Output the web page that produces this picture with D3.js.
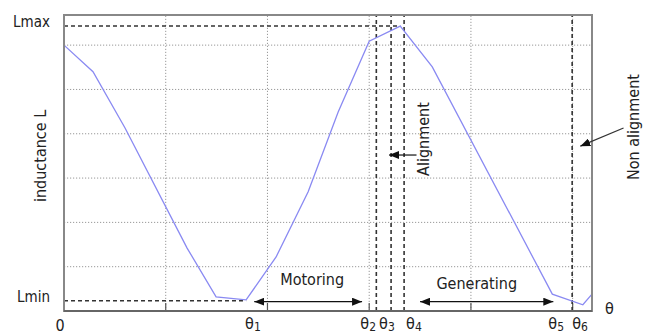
<!DOCTYPE html>
<html>
<head>
<meta charset="utf-8">
<script src="https://cdn.jsdelivr.net/npm/d3@7"></script>
<style>
  body { margin: 0; background: #fff; }
  text { font-family: "DejaVu Sans Condensed", "DejaVu Sans", sans-serif; fill: #222; }
</style>
</head>
<body>
<div id="chart"></div>
<script>
// rotor angle (grid units) and inductance (grid units)
const theta = [0, 0.285, 0.60, 1.21, 1.495, 1.79, 2.085, 2.40, 2.695, 3.00, 3.305, 3.62, 4.80, 5.10, 5.19];
const inductance = [6.00, 5.40, 4.13, 1.42, 0.32, 0.25, 1.22, 2.69, 4.49, 6.09, 6.43, 5.51, 0.38, 0.14, 0.38];

const lMax = 6.43, lMin = 0.23;
const xGrid = [1, 2, 3, 4, 5];
const yGrid = [1, 2, 3, 4, 5, 6];

// theta markers
const markNames = ["1", "2", "3", "4", "5", "6"];
const markVals = [1.79, 3.07, 3.215, 3.343, 4.80, 4.995];
const markLine = [false, true, true, true, false, true];

// operating regions
const regionNames = ["Motoring", "Generating"];
const regionFrom = [1.87, 3.50];
const regionTo = [2.93, 4.81];

let width = 653, height = 336;
let margin = {top: 15, right: 61, bottom: 25, left: 64};

let svg = d3.select("#chart").append("svg")
    .attr("width", width)
    .attr("height", height);

svg.append("defs").append("marker")
    .attr("id", "arr")
    .attr("viewBox", "0 0 10 8")
    .attr("refX", 10).attr("refY", 4)
    .attr("markerWidth", 10).attr("markerHeight", 8)
    .attr("markerUnits", "userSpaceOnUse")
    .attr("orient", "auto-start-reverse")
    .append("path").attr("d", "M0,0L10,4L0,8Z").attr("fill", "#111");

let x = d3.scaleLinear().domain([0, 5.19]).range([margin.left, width - margin.right]);
let y = d3.scaleLinear().domain([0, 6.68]).range([height - margin.bottom, margin.top]);

// grid
svg.append("g").selectAll("line").data(yGrid).enter().append("line")
    .attr("x1", x(0)).attr("x2", x(5.19))
    .attr("y1", d => y(d)).attr("y2", d => y(d))
    .attr("stroke", "#999").attr("stroke-dasharray", "1.2,1.8");
svg.append("g").selectAll("line").data(xGrid).enter().append("line")
    .attr("x1", d => x(d)).attr("x2", d => x(d))
    .attr("y1", y(0)).attr("y2", y(6.68))
    .attr("stroke", "#999").attr("stroke-dasharray", "1.2,1.8");

// bottom ticks
svg.append("g").selectAll("line").data(xGrid).enter().append("line")
    .attr("x1", d => x(d)).attr("x2", d => x(d))
    .attr("y1", y(0)).attr("y2", y(0) - 8)
    .attr("stroke", "#555").attr("stroke-width", 1.2);

// Lmax / Lmin dashed guides
svg.append("line")
    .attr("x1", x(0)).attr("x2", x(3.305))
    .attr("y1", y(lMax)).attr("y2", y(lMax))
    .attr("stroke", "#333").attr("stroke-width", 1.5).attr("stroke-dasharray", "4,3");
svg.append("line")
    .attr("x1", x(0)).attr("x2", x(1.79))
    .attr("y1", y(lMin)).attr("y2", y(lMin))
    .attr("stroke", "#333").attr("stroke-width", 1.5).attr("stroke-dasharray", "4,3");

// vertical theta lines
svg.append("g").selectAll("line").data(markVals.filter((d, i) => markLine[i])).enter().append("line")
    .attr("x1", d => x(d)).attr("x2", d => x(d))
    .attr("y1", y(0)).attr("y2", y(6.68))
    .attr("stroke", "#333").attr("stroke-width", 1.6).attr("stroke-dasharray", "4,3");

// curve
let line = d3.line().x((d, i) => x(theta[i])).y(d => y(d));
svg.append("path")
    .attr("d", line(inductance))
    .attr("fill", "none")
    .attr("stroke", "#8a8af2")
    .attr("stroke-width", 1.3);

// box
svg.append("rect")
    .attr("x", x(0)).attr("y", y(6.68))
    .attr("width", x(5.19) - x(0)).attr("height", y(0) - y(6.68))
    .attr("fill", "none").attr("stroke", "#888").attr("stroke-width", 2);
svg.append("line")
    .attr("x1", x(0)).attr("x2", x(5.19))
    .attr("y1", y(0)).attr("y2", y(0))
    .attr("stroke", "#666").attr("stroke-width", 2.2);

// region arrows + labels
regionNames.forEach((name, i) => {
    let ay = y(0.21);
    svg.append("line")
        .attr("x1", x(regionFrom[i])).attr("x2", x(regionTo[i]))
        .attr("y1", ay).attr("y2", ay)
        .attr("stroke", "#111").attr("stroke-width", 1.3)
        .attr("marker-start", "url(#arr)").attr("marker-end", "url(#arr)");
    svg.append("text")
        .attr("x", (x(regionFrom[i]) + x(regionTo[i])) / 2 + (i ? -10 : 4))
        .attr("y", ay - (i ? 13 : 17))
        .attr("text-anchor", "middle")
        .attr("font-size", 16)
        .text(name);
});

// alignment annotations
svg.append("line")
    .attr("x1", x(3.465)).attr("x2", x(3.195))
    .attr("y1", y(3.52)).attr("y2", y(3.52))
    .attr("stroke", "#111").attr("stroke-width", 1.2)
    .attr("marker-end", "url(#arr)");
svg.append("text")
    .attr("transform", `translate(${x(3.6) - 1},${y(3.88)}) rotate(-90)`)
    .attr("text-anchor", "middle").attr("font-size", 16)
    .text("Alignment");

svg.append("line")
    .attr("x1", x(5.50)).attr("x2", x(5.075))
    .attr("y1", y(4.13)).attr("y2", y(3.72))
    .attr("stroke", "#333").attr("stroke-width", 1.2)
    .attr("marker-end", "url(#arr)");
svg.append("text")
    .attr("transform", `translate(${x(5.655)},${y(4.15)}) rotate(-90)`)
    .attr("text-anchor", "middle").attr("font-size", 16)
    .text("Non alignment");

// axis labels
svg.append("text")
    .attr("transform", `translate(46,${y(3.5)}) rotate(-90)`)
    .attr("text-anchor", "middle").attr("font-size", 16)
    .text("inductance L");
svg.append("text")
    .attr("x", x(0) - 14).attr("y", y(lMax) + 1)
    .attr("text-anchor", "end").attr("font-size", 15)
    .text("Lmax");
svg.append("text")
    .attr("x", x(0) - 14).attr("y", y(lMin) + 1)
    .attr("text-anchor", "end").attr("font-size", 15)
    .text("Lmin");
svg.append("text")
    .attr("x", x(0) - 4).attr("y", y(0) + 20)
    .attr("text-anchor", "middle").attr("font-size", 16)
    .text("0");
svg.append("text")
    .attr("x", x(5.19) + 13).attr("y", y(0) + 3)
    .attr("font-size", 16)
    .text("θ");

// theta labels
const labelShift = [-1, -16, -12, 2, -4, 0];
let labels = svg.append("g").selectAll("text").data(markVals).enter().append("text")
    .attr("x", (d, i) => x(d) + labelShift[i])
    .attr("y", y(0) + 18)
    .attr("font-size", 16);
labels.append("tspan").text("θ");
labels.append("tspan").attr("dy", 2).attr("font-size", 12).text((d, i) => markNames[i]);
</script>
</body>
</html>
